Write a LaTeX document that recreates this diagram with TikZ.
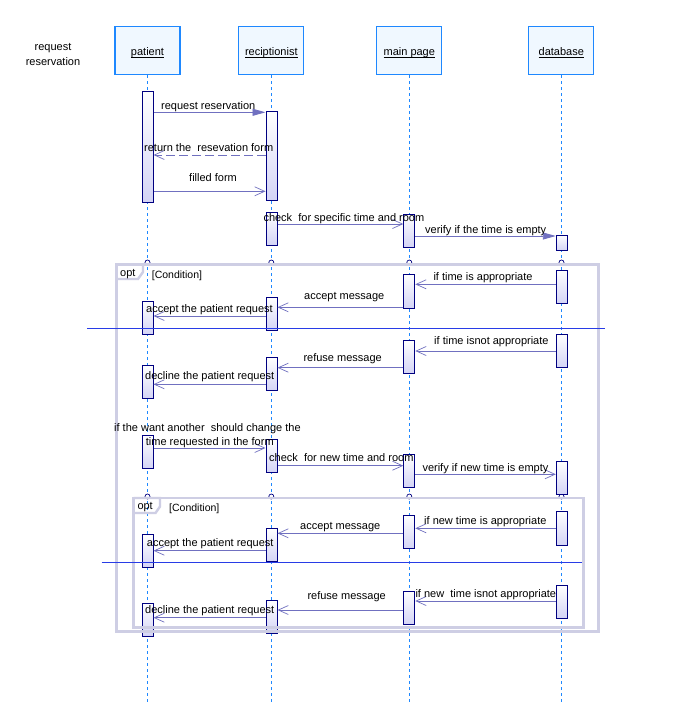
\documentclass[tikz,border=0pt]{standalone}
\usepackage{fontspec}
\setmainfont{Liberation Sans}
\usetikzlibrary{arrows.meta}

\definecolor{lifeblue}{RGB}{30,136,255}
\definecolor{headfill}{RGB}{240,248,255}
\definecolor{barnavy}{RGB}{0,0,128}
\definecolor{barlav}{RGB}{212,212,246}
\definecolor{msgc}{RGB}{112,112,192}
\definecolor{fragc}{RGB}{206,206,228}
\definecolor{sepc}{RGB}{40,60,230}

\newcommand\lblfont{\fontsize{11}{13}\selectfont}
\newcommand\condfont{\fontsize{10.5}{12}\selectfont}
% underlined lifeline title, rule placed just under the baseline
\newcommand\ulin[1]{\setbox0\hbox{#1}\rlap{\rule[-2.6pt]{\wd0}{0.75pt}}\box0}
% activation box: name, x, top, bottom
\newcommand\actbox[4]{%
  \pgfmathsetmacro\abh{#4-#3}\pgfmathsetmacro\abm{(#3+#4)/2}%
  \node[actbar,minimum height=\abh pt] (#1) at (#2,\abm) {};}

\tikzset{
  lifehead/.style={draw=lifeblue, line width=1.1pt, fill=headfill,
    minimum width=65pt, minimum height=48pt, inner sep=0pt,
    text height=10pt, text depth=1.3pt, font=\lblfont},
  lifeline/.style={draw=lifeblue, line width=0.9pt, dash pattern=on 3pt off 3pt},
  actbar/.style={draw=barnavy, line width=1pt, top color=white, bottom color=barlav,
    minimum width=11pt, inner sep=0pt},
  msg/.style={draw=msgc, line width=0.9pt,
    -{Straight Barb[length=10pt,width=9pt,line width=0.7pt]}},
  syncmsg/.style={draw=msgc, line width=0.9pt, -{Triangle[length=13pt,width=7pt]}},
  retmsg/.style={msg, dash pattern=on 9pt off 4pt},
  lbl/.style={anchor=base west, inner sep=0pt, font=\lblfont},
  condlbl/.style={anchor=base west, inner sep=0pt, font=\condfont},
  fragline/.style={draw=fragc, line width=2.8pt},
  fragtag/.style={draw=fragc, line width=2.4pt},
  fragdot/.style={circle, draw=barnavy, fill=white, line width=0.7pt,
    minimum size=5pt, inner sep=0pt},
  sepline/.style={draw=sepc, line width=1pt},
}

\begin{document}
\begin{tikzpicture}[x=1pt,y=-1pt]
\useasboundingbox (0,0) rectangle (698,702);
\fill[white] (0,0) rectangle (698,702);

% use case title
\node[anchor=base, inner sep=0pt, font=\lblfont] (req1) at (53,50.7) {request};
\node[anchor=base, inner sep=0pt, font=\lblfont] (req2) at (53,65) {reservation};

% lifeline heads
\node[lifehead] (hp) at (147.5,50.7) {\ulin{patient}};
\node[lifehead] (hr) at (271.3,50.7) {\ulin{reciptionist}};
\node[lifehead] (hm) at (409.3,50.7) {\ulin{main page}};
\node[lifehead] (hd) at (561.3,50.7) {\ulin{database}};

\coordinate (ep) at (147.5,702);
\coordinate (er) at (271.3,702);
\coordinate (em) at (409.3,702);
\coordinate (ed) at (561.3,702);
\draw[lifeline] (hp.south) -- (ep);
\draw[lifeline] (hr.south) -- (er);
\draw[lifeline] (hm.south) -- (em);
\draw[lifeline] (hd.south) -- (ed);

% fragment markers on the lifelines
\foreach \nm/\xx in {p/147.5, r/271.3, m/409.3, d/561.5} {
  \node[fragdot] (ca\nm) at (\xx,262.5) {};
  \node[fragdot] (cb\nm) at (\xx,496.5) {};
}

% activation boxes
\actbox{P1}{147.5}{91}{202}
\actbox{R1}{271.5}{111}{200}
\actbox{R2}{271.5}{212}{245}
\actbox{M1}{409.3}{214}{247}
\actbox{D1}{561.8}{235}{250.5}
\actbox{D2}{561.8}{270}{303.5}
\actbox{M2}{409.3}{274}{308.5}
\actbox{R3}{271.5}{297.5}{330.5}
\actbox{P2}{147.5}{301}{334}
\actbox{D3}{561.8}{334}{367.5}
\actbox{M3}{409.3}{340}{373.5}
\actbox{R4}{271.5}{357.5}{390.5}
\actbox{P3}{147.5}{365.5}{398.5}
\actbox{P4}{147.5}{435}{468}
\actbox{R5}{271.5}{439.5}{472.5}
\actbox{M4}{409.3}{454.5}{487.5}
\actbox{D4}{561.8}{461.5}{494.5}
\actbox{D5}{561.8}{511.5}{545}
\actbox{M5}{409.3}{515.5}{548.5}
\actbox{R6}{271.5}{528.5}{561.5}
\actbox{P5}{147.5}{534.5}{567.5}
\actbox{D6}{561.8}{585.5}{618.5}
\actbox{M6}{409.3}{591}{624.5}
\actbox{R7}{271.5}{600}{633}
\actbox{P6}{147.5}{603.5}{636}

% combined fragments (opt)
\draw[fragline] (116.5,264.5) rectangle (598.7,631.5);
\draw[fragtag] (116.5,264.5) -- (143,264.5) -- (143,272) -- (138,279) -- (116.5,279);
\node[lbl] (opt1) at (120,276.5) {opt};
\node[condlbl] (cond1) at (151.7,278.3) {[Condition]};

\draw[fragline] (133.7,498) rectangle (583.7,627.5);
\draw[fragtag] (133.7,498) -- (160,498) -- (160,506.5) -- (155.5,513) -- (133.7,513);
\node[lbl] (opt2) at (137.3,509.3) {opt};
\node[condlbl] (cond2) at (169,511) {[Condition]};

% messages
\draw[syncmsg] (P1.east |- 0,112.3) -- (R1.west |- 0,112.3);
\draw[retmsg]  (R1.west |- 0,155) -- (P1.east |- 0,155);
\draw[msg]     (P1.east |- 0,191.3) -- (R1.west |- 0,191.3);
\draw[msg]     (R2.east |- 0,224) -- (M1.west |- 0,224);
\draw[syncmsg] (M1.east |- 0,236) -- (D1.west |- 0,236);
\draw[msg]     (D2.west |- 0,284.3) -- (M2.east |- 0,284.3);
\draw[msg]     (M2.west |- 0,307.3) -- (R3.east |- 0,307.3);
\draw[msg]     (R3.west |- 0,316) -- (P2.east |- 0,316);
\draw[msg]     (D3.west |- 0,351) -- (M3.east |- 0,351);
\draw[msg]     (M3.west |- 0,367.7) -- (R4.east |- 0,367.7);
\draw[msg]     (R4.west |- 0,384.3) -- (P3.east |- 0,384.3);
\draw[msg]     (P4.east |- 0,448) -- (R5.west |- 0,448);
\draw[msg]     (R5.east |- 0,465.7) -- (M4.west |- 0,465.7);
\draw[msg]     (M4.east |- 0,474.3) -- (D4.west |- 0,474.3);
\draw[msg]     (D5.west |- 0,528.3) -- (M5.east |- 0,528.3);
\draw[msg]     (M5.west |- 0,533.3) -- (R6.east |- 0,533.3);
\draw[msg]     (R6.west |- 0,550.7) -- (P5.east |- 0,550.7);
\draw[msg]     (D6.west |- 0,601) -- (M6.east |- 0,601);
\draw[msg]     (M6.west |- 0,610) -- (R7.east |- 0,610);
\draw[msg]     (R7.west |- 0,617.7) -- (P6.east |- 0,617.7);

% operand separators
\coordinate (s1a) at (87.3,328);
\coordinate (s1b) at (605,328);
\coordinate (s2a) at (101.7,562.7);
\coordinate (s2b) at (582.3,562.7);
\draw[sepline] (s1a) -- (s1b);
\draw[sepline] (s2a) -- (s2b);

% message labels
\node[lbl] (t1)  at (161,109)     {request reservation};
\node[lbl] (t2)  at (144,151)     {return the\ \ resevation form};
\node[lbl] (t3)  at (189,181)     {filled form};
\node[lbl] (t4)  at (263.3,221.7) {check\ \ for specific time and room};
\node[lbl] (t5)  at (425,233.3)   {verify if the time is empty};
\node[lbl] (t6)  at (433.3,280)   {if time is appropriate};
\node[lbl] (t7)  at (304,299)     {accept message};
\node[lbl] (t8)  at (146,312.3)   {accept the patient request};
\node[lbl] (t9)  at (434,344)     {if time isnot appropriate};
\node[lbl] (t10) at (303.3,361)   {refuse message};
\node[lbl] (t11) at (145,379.3)   {decline the patient request};
\node[lbl] (t12) at (114,431)     {if the want another\ \ should change the};
\node[lbl] (t12b) at (145.7,445.3) {time requested in the form};
\node[lbl] (t13) at (269,461.7)   {check\ \ for new time and room};
\node[lbl] (t14) at (422.3,471)   {verify if new time is empty};
\node[lbl] (t15) at (424,524)     {if new time is appropriate};
\node[lbl] (t16) at (300,529.3)   {accept message};
\node[lbl] (t17) at (146.7,546.7) {accept the patient request};
\node[lbl] (t18) at (415.3,597.3) {if new\ \ time isnot appropriate};
\node[lbl] (t19) at (307.3,599.3) {refuse message};
\node[lbl] (t20) at (145,613.3)   {decline the patient request};
\end{tikzpicture}
\end{document}
